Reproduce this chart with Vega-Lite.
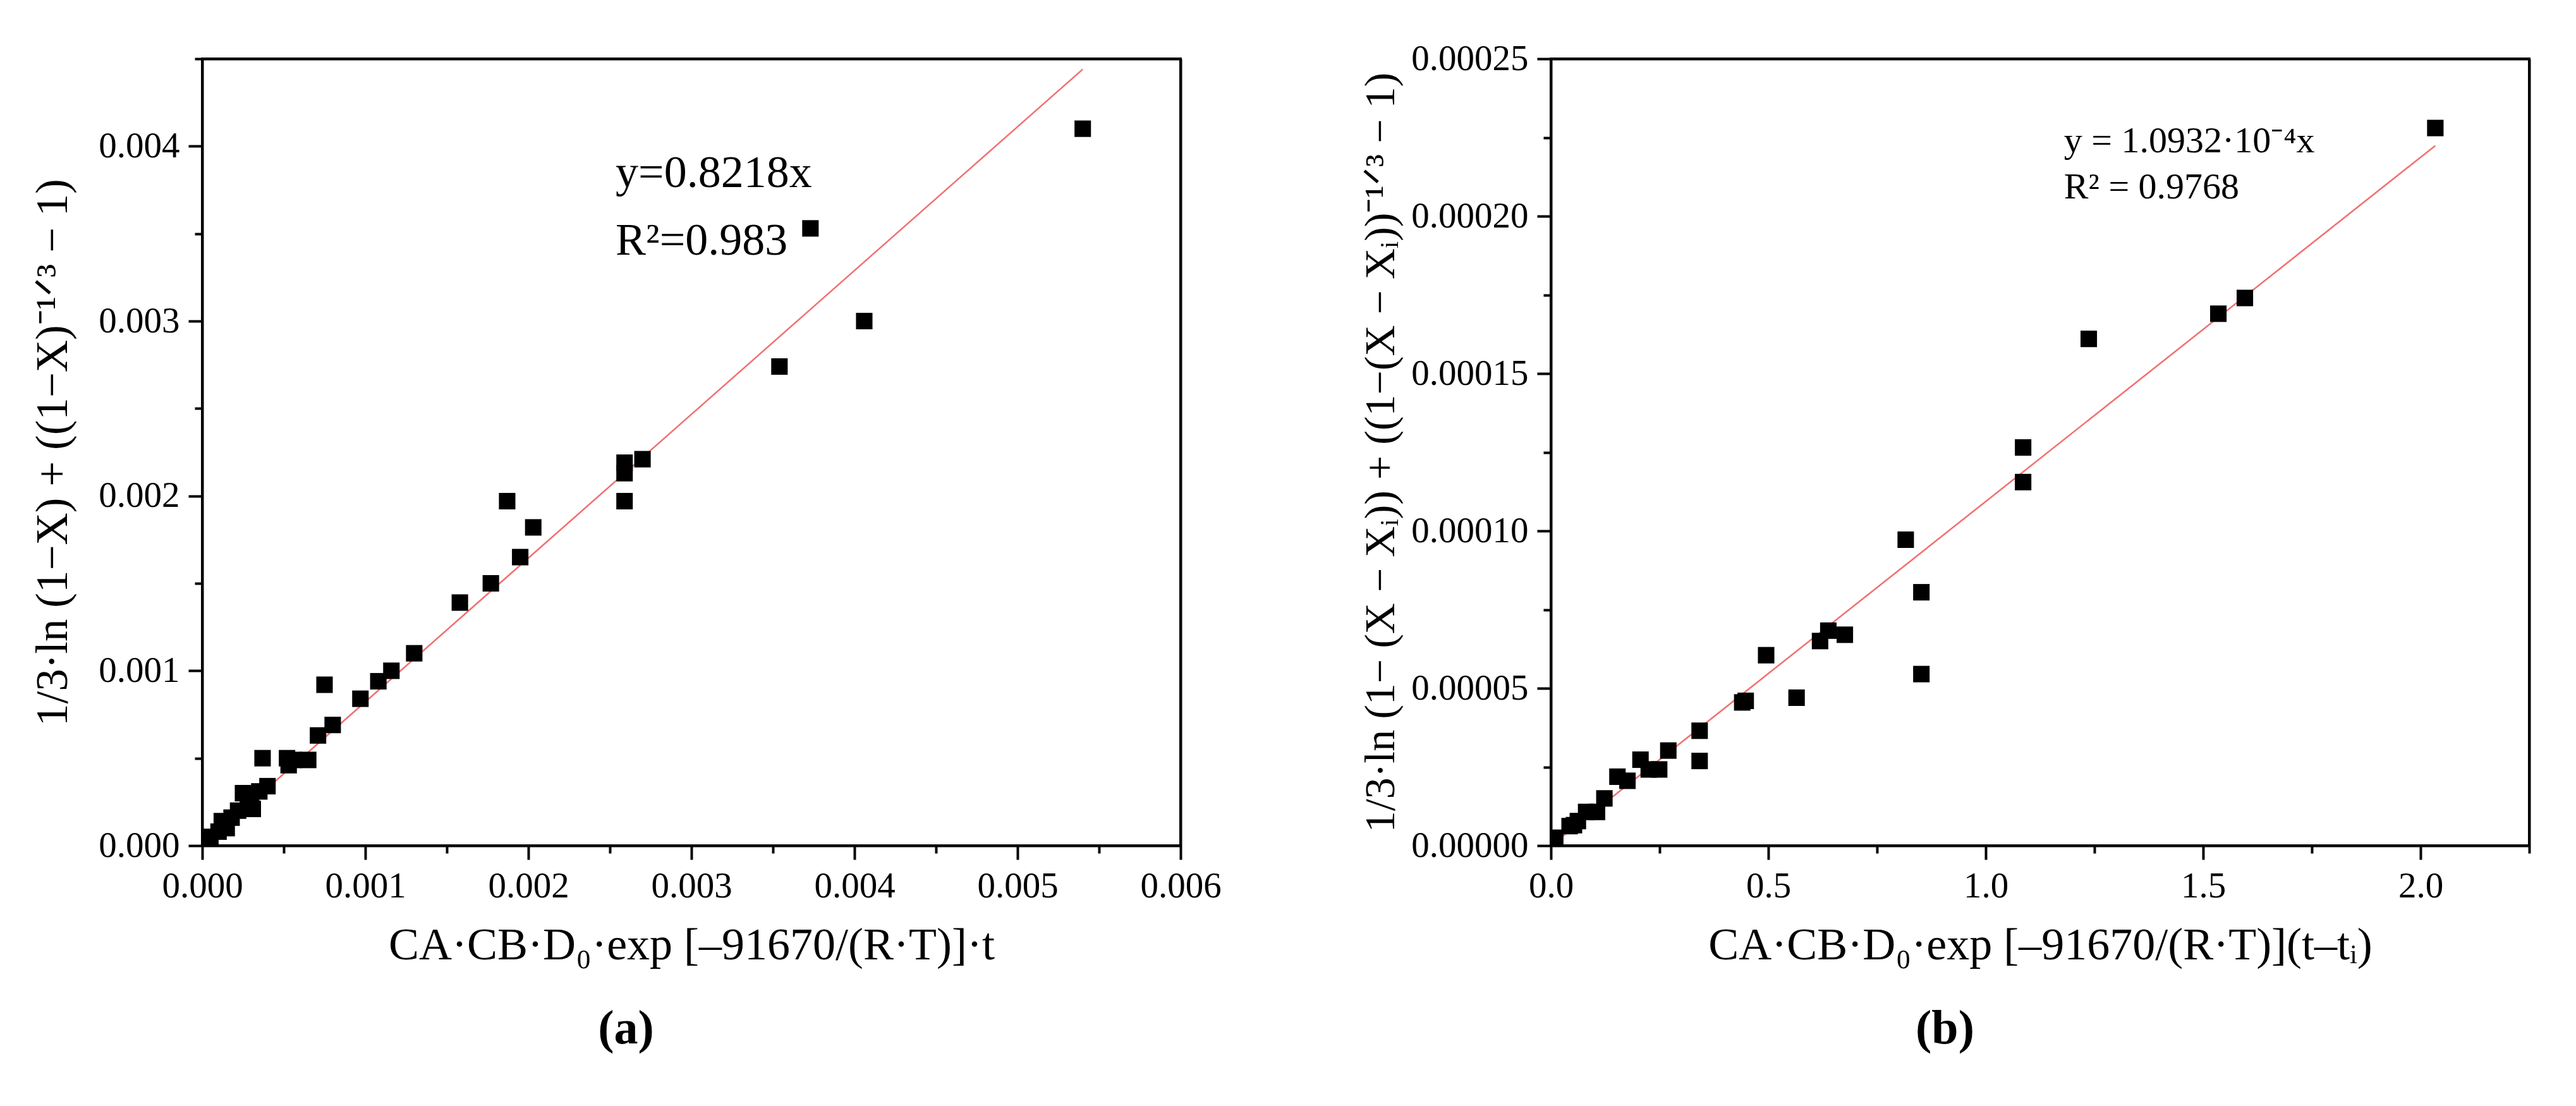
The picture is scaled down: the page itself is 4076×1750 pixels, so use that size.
{
  "$schema": "https://vega.github.io/schema/vega-lite/v6.json",
  "background": "white",
  "padding": {"left": 46, "top": 62, "right": 0, "bottom": 0},
  "bounds": "flush",
  "spacing": 586,
  "datasets": {
    "a_pts": [
      {"x": 0.0054, "y": 0.0041}, {"x": 0.00373, "y": 0.00353}, {"x": 0.00406, "y": 0.0030},
      {"x": 0.00354, "y": 0.00274}, {"x": 0.0027, "y": 0.00221}, {"x": 0.00259, "y": 0.00219},
      {"x": 0.00259, "y": 0.00213}, {"x": 0.00259, "y": 0.00197}, {"x": 0.00187, "y": 0.00197},
      {"x": 0.00203, "y": 0.00182}, {"x": 0.00195, "y": 0.00165}, {"x": 0.00177, "y": 0.0015},
      {"x": 0.00158, "y": 0.00139}, {"x": 0.0013, "y": 0.0011}, {"x": 0.00116, "y": 0.001},
      {"x": 0.00108, "y": 0.00094}, {"x": 0.00097, "y": 0.00084}, {"x": 0.00075, "y": 0.00092},
      {"x": 0.0008, "y": 0.00069}, {"x": 0.00071, "y": 0.00063}, {"x": 0.00065, "y": 0.00049},
      {"x": 0.00056, "y": 0.00049}, {"x": 0.00052, "y": 0.0005}, {"x": 0.00053, "y": 0.00046},
      {"x": 0.00037, "y": 0.0005}, {"x": 0.0004, "y": 0.00034}, {"x": 0.00035, "y": 0.00031},
      {"x": 0.0003, "y": 0.00029}, {"x": 0.00028, "y": 0.00024}, {"x": 0.00031, "y": 0.00021},
      {"x": 0.00025, "y": 0.0003}, {"x": 0.00022, "y": 0.0002}, {"x": 0.00018, "y": 0.00016},
      {"x": 0.00012, "y": 0.00014}, {"x": 0.00015, "y": 0.0001}, {"x": 0.0001, "y": 0.00008},
      {"x": 0.00005, "y": 0.00005}, {"x": 0.00002, "y": 0.00002}
    ],
    "a_fit": [{"x": 0, "y": 0}, {"x": 0.0054, "y": 0.00444}],
    "a_txt": [
      {"x": 0.002535, "y": 0.003766, "label": "y=0.8218x"},
      {"x": 0.002535, "y": 0.00338, "label": "R²=0.983"}
    ],
    "b_pts": [
      {"x": 2.034, "y": 0.000228}, {"x": 1.596, "y": 0.000174}, {"x": 1.535, "y": 0.000169},
      {"x": 1.237, "y": 0.000161}, {"x": 1.086, "y": 0.0001265}, {"x": 1.086, "y": 0.0001155},
      {"x": 0.816, "y": 0.0000972}, {"x": 0.852, "y": 0.0000805}, {"x": 0.852, "y": 0.0000545},
      {"x": 0.495, "y": 0.0000605}, {"x": 0.565, "y": 0.000047}, {"x": 0.619, "y": 0.000065},
      {"x": 0.638, "y": 0.0000683}, {"x": 0.676, "y": 0.000067}, {"x": 0.44, "y": 0.0000455},
      {"x": 0.448, "y": 0.000046}, {"x": 0.342, "y": 0.0000365}, {"x": 0.342, "y": 0.0000269},
      {"x": 0.27, "y": 0.0000302}, {"x": 0.249, "y": 0.0000242}, {"x": 0.225, "y": 0.0000242},
      {"x": 0.206, "y": 0.0000273}, {"x": 0.176, "y": 0.0000206}, {"x": 0.153, "y": 0.0000219},
      {"x": 0.123, "y": 0.000015}, {"x": 0.106, "y": 0.0000107}, {"x": 0.081, "y": 0.0000107},
      {"x": 0.062, "y": 0.0000078}, {"x": 0.053, "y": 0.0000065}, {"x": 0.043, "y": 0.0000062},
      {"x": 0.01, "y": 0.0000025}
    ],
    "b_fit": [{"x": 0, "y": 0}, {"x": 2.034, "y": 0.0002224}],
    "b_txt": [
      {"x": 1.18, "y": 0.00022028, "label": "y = 1.0932·10⁻⁴x"},
      {"x": 1.18, "y": 0.0002056, "label": "R² = 0.9768"}
    ]
  },
  "hconcat": [
    {
      "width": 1548,
      "height": 1245,
      "view": {"stroke": "black", "strokeWidth": 4, "fill": null},
      "title": {"text": "(a)", "orient": "bottom", "anchor": "middle", "frame": "bounds", "offset": 60},
      "resolve": {"axis": {"x": "independent", "y": "independent"}},
      "layer": [
        {
          "data": {"name": "a_fit"},
          "mark": {"type": "line", "opacity": 0},
          "encoding": {
            "x": {"field": "x", "type": "quantitative", "scale": {"domain": [0, 0.006], "nice": false, "zero": false},
                  "axis": {"orient": "top", "labels": false, "ticks": true, "tickSize": 0, "title": null, "domain": true, "domainColor": "black", "domainWidth": 4, "tickCount": 1}},
            "y": {"field": "y", "type": "quantitative", "scale": {"domain": [0, 0.0045], "nice": false, "zero": false},
                  "axis": {"orient": "right", "labels": false, "ticks": true, "tickSize": 0, "title": null, "domain": true, "domainColor": "black", "domainWidth": 4, "tickCount": 1}}
          }
        },
        {
          "data": {"name": "a_fit"},
          "mark": {"type": "line", "color": "#f07070", "strokeWidth": 2.5, "clip": true},
          "encoding": {
            "x": {
              "field": "x",
              "type": "quantitative",
              "axis": {
                "orient": "bottom",
                "title": "CA·CB·D₀·exp [–91670/(R·T)]·t",
                "values": [0, 0.0005, 0.001, 0.0015, 0.002, 0.0025, 0.003, 0.0035, 0.004, 0.0045, 0.005, 0.0055, 0.006],
                "labelExpr": "abs(datum.value*1000 - round(datum.value*1000)) < 1e-6 ? format(datum.value, '.3f') : ''",
                "tickSize": {"condition": {"test": "abs(datum.value*1000 - round(datum.value*1000)) < 1e-6", "value": 22}, "value": 12}
              }
            },
            "y": {
              "field": "y",
              "type": "quantitative",
              "axis": {
                "orient": "left",
                "title": "1/3·ln (1−X) + ((1−X)⁻¹ᐟ³ − 1)",
                "titleFontSize": 71,
                "values": [0, 0.0005, 0.001, 0.0015, 0.002, 0.0025, 0.003, 0.0035, 0.004, 0.0045],
                "labelExpr": "abs(datum.value*1000 - round(datum.value*1000)) < 1e-6 ? format(datum.value, '.3f') : ''",
                "tickSize": {"condition": {"test": "abs(datum.value*1000 - round(datum.value*1000)) < 1e-6", "value": 22}, "value": 12}
              }
            }
          }
        },
        {
          "data": {"name": "a_pts"},
          "mark": {"type": "square", "size": 680, "color": "black", "opacity": 1, "clip": true},
          "encoding": {
            "x": {"field": "x", "type": "quantitative", "axis": null},
            "y": {"field": "y", "type": "quantitative", "axis": null}
          }
        },
        {
          "data": {"name": "a_txt"},
          "mark": {"type": "text", "align": "left", "baseline": "alphabetic", "fontSize": 72, "font": "Liberation Serif", "color": "black"},
          "encoding": {
            "x": {"field": "x", "type": "quantitative", "axis": null},
            "y": {"field": "y", "type": "quantitative", "axis": null},
            "text": {"field": "label"}
          }
        }
      ]
    },
    {
      "width": 1548,
      "height": 1245,
      "view": {"stroke": "black", "strokeWidth": 4, "fill": null},
      "title": {"text": "(b)", "orient": "bottom", "anchor": "middle", "frame": "bounds", "offset": 60},
      "resolve": {"axis": {"x": "independent", "y": "independent"}},
      "layer": [
        {
          "data": {"name": "b_fit"},
          "mark": {"type": "line", "opacity": 0},
          "encoding": {
            "x": {"field": "x", "type": "quantitative", "scale": {"domain": [0, 2.25], "nice": false, "zero": false},
                  "axis": {"orient": "top", "labels": false, "ticks": true, "tickSize": 0, "title": null, "domain": true, "domainColor": "black", "domainWidth": 4, "tickCount": 1}},
            "y": {"field": "y", "type": "quantitative", "scale": {"domain": [0, 0.00025], "nice": false, "zero": false},
                  "axis": {"orient": "right", "labels": false, "ticks": true, "tickSize": 0, "title": null, "domain": true, "domainColor": "black", "domainWidth": 4, "tickCount": 1}}
          }
        },
        {
          "data": {"name": "b_fit"},
          "mark": {"type": "line", "color": "#f07070", "strokeWidth": 2.5, "clip": true},
          "encoding": {
            "x": {
              "field": "x",
              "type": "quantitative",
              "axis": {
                "orient": "bottom",
                "title": "CA·CB·D₀·exp [–91670/(R·T)](t–tᵢ)",
                "values": [0, 0.25, 0.5, 0.75, 1, 1.25, 1.5, 1.75, 2, 2.25],
                "labelExpr": "abs(datum.value*2 - round(datum.value*2)) < 1e-6 ? format(datum.value, '.1f') : ''",
                "tickSize": {"condition": {"test": "abs(datum.value*2 - round(datum.value*2)) < 1e-6", "value": 22}, "value": 12}
              }
            },
            "y": {
              "field": "y",
              "type": "quantitative",
              "axis": {
                "orient": "left",
                "title": "1/3·ln (1− (X − Xᵢ)) + ((1−(X − Xᵢ))⁻¹ᐟ³ − 1)",
                "values": [0, 0.000025, 0.00005, 0.000075, 0.0001, 0.000125, 0.00015, 0.000175, 0.0002, 0.000225, 0.00025],
                "labelExpr": "abs(datum.value*20000 - round(datum.value*20000)) < 1e-6 ? format(datum.value, '.5f') : ''",
                "tickSize": {"condition": {"test": "abs(datum.value*20000 - round(datum.value*20000)) < 1e-6", "value": 22}, "value": 12}
              }
            }
          }
        },
        {
          "data": {"name": "b_pts"},
          "mark": {"type": "square", "size": 680, "color": "black", "opacity": 1, "clip": true},
          "encoding": {
            "x": {"field": "x", "type": "quantitative", "axis": null},
            "y": {"field": "y", "type": "quantitative", "axis": null}
          }
        },
        {
          "data": {"name": "b_txt"},
          "mark": {"type": "text", "align": "left", "baseline": "alphabetic", "fontSize": 58, "font": "Liberation Serif", "color": "black"},
          "encoding": {
            "x": {"field": "x", "type": "quantitative", "axis": null},
            "y": {"field": "y", "type": "quantitative", "axis": null},
            "text": {"field": "label"}
          }
        }
      ]
    }
  ],
  "config": {
    "font": "Liberation Serif",
    "style": {"cell": {"stroke": "black", "strokeWidth": 4}},
    "axis": {
      "grid": false,
      "domainColor": "black",
      "domainWidth": 4,
      "tickColor": "black",
      "tickWidth": 4,
      "labelFont": "Liberation Serif",
      "labelFontSize": 57,
      "labelColor": "black",
      "labelPadding": 14,
      "labelLimit": 600,
      "labelFlush": false,
      "labelOverlap": false,
      "titleFont": "Liberation Serif",
      "titleFontWeight": "normal",
      "titleColor": "black",
      "titleLimit": 3000
    },
    "axisX": {"titlePadding": 30, "titleFontSize": 72},
    "axisY": {"titlePadding": 35, "titleFontSize": 68},
    "title": {"font": "Liberation Serif", "fontSize": 76, "fontWeight": "bold", "color": "black"}
  }
}
